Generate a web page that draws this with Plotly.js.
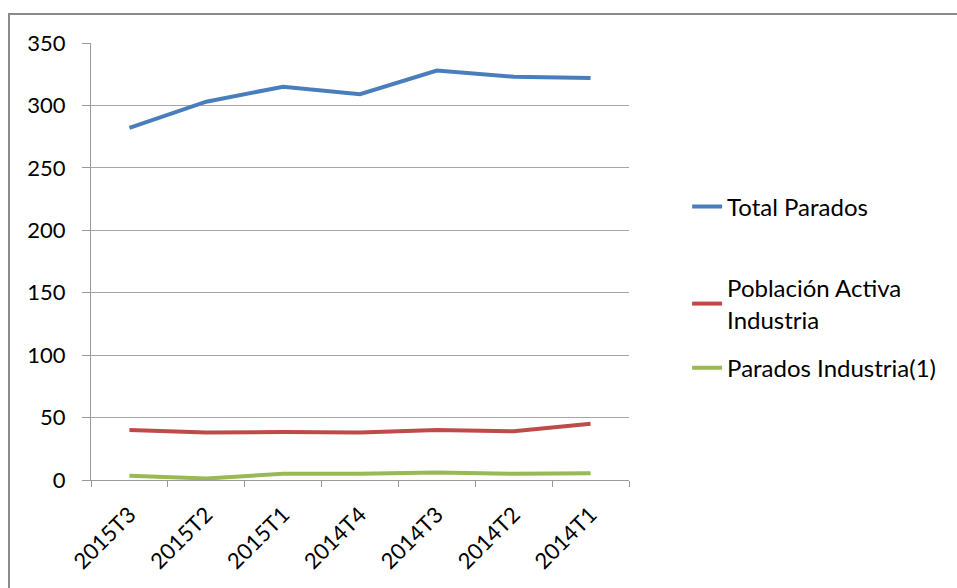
<!DOCTYPE html>
<html>
<head>
<meta charset="utf-8">
<script src="https://cdn.plot.ly/plotly-3.0.1.min.js"></script>
<style>
html,body{margin:0;padding:0;background:#fff;overflow:hidden;}
#frame{position:absolute;left:8px;top:13px;width:949px;height:575px;border-left:2px solid #8a8a8a;border-top:2px solid #8a8a8a;box-sizing:border-box;}
#chart{position:absolute;left:0;top:0;width:947px;height:573px;}
</style>
</head>
<body>
<div id="frame"><div id="chart"></div></div>
<script>
const categories = ["2015T3","2015T2","2015T1","2014T4","2014T3","2014T2","2014T1"];
const totalParados = [282, 303, 315, 309, 328, 323, 322];
const poblacionActivaIndustria = [40, 38, 38.5, 38, 40, 39, 45];
const paradosIndustria = [3.5, 1.2, 5, 5, 6, 5, 5.5];
const seriesNames = ["Total Parados", "Población Activa<br>Industria", "Parados Industria(1)"];
const colors = ["#4a7ebb", "#be4b48", "#98b954"];

const fontFam = "Lato, 'Liberation Sans', sans-serif";
const legendIds = ["legend", "legend2", "legend3"];
const data = [totalParados, poblacionActivaIndustria, paradosIndustria].map((ys, i) => ({
  type: "scatter", mode: "lines", x: categories, y: ys, name: seriesNames[i],
  legend: legendIds[i],
  line: {color: colors[i], width: 4}
}));

const legendY = [0.625, 0.403, 0.256];
const legendBase = {x: 1.108, xanchor: "left", yanchor: "middle", font: {size: 24, family: fontFam, color: "#000"}, bgcolor: "rgba(0,0,0,0)", borderwidth: 0};

const layout = {
  width: 947, height: 573,
  margin: {l: 81, r: 328, t: 28, b: 108},
  paper_bgcolor: "#fff", plot_bgcolor: "#fff",
  showlegend: true,
  font: {family: fontFam, size: 22, color: "#000"},
  legend: Object.assign({}, legendBase, {y: legendY[0]}),
  legend2: Object.assign({}, legendBase, {y: legendY[1]}),
  legend3: Object.assign({}, legendBase, {y: legendY[2]}),
  xaxis: {
    type: "category", tickson: "boundaries", ticks: "outside", ticklen: 6, tickcolor: "#9a9a9a",
    showline: true, linecolor: "#9a9a9a", linewidth: 1, showgrid: false,
    tickangle: -45, tickfont: {size: 22, family: fontFam}, range: [-0.5, 6.5],
    ticklabelstandoff: 12
  },
  yaxis: {
    range: [0, 350], dtick: 50, ticks: "outside", ticklen: 8, tickcolor: "#9a9a9a",
    showline: true, linecolor: "#9a9a9a", linewidth: 1,
    showgrid: true, gridcolor: "#a6a6a6", gridwidth: 1, zeroline: false,
    tickfont: {size: 22, family: fontFam}, ticklabelstandoff: 12
  }
};
Plotly.newPlot("chart", data, layout, {displayModeBar: false, staticPlot: true});
</script>
</body>
</html>
